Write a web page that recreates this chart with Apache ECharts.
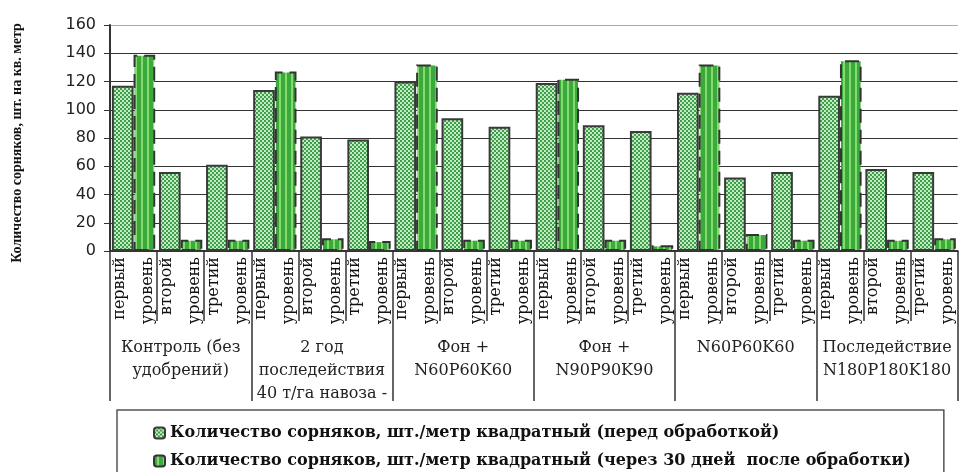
<!DOCTYPE html>
<html>
<head>
<meta charset="utf-8">
<script src="https://cdn.jsdelivr.net/npm/echarts@6/dist/echarts.min.js"></script>
<style>
  html, body { margin: 0; padding: 0; background: #fff; }
  #chart { width: 962px; height: 472px; }
</style>
</head>
<body>
<div id="chart"></div>
<script>
// данные
const groups = [
  'Контроль (без\nудобрений)',
  '2 год\nпоследействия\n40 т/га навоза -',
  'Фон +\nN60P60K60',
  'Фон +\nN90P90K90',
  'N60P60K60',
  'Последействие\nN180P180K180'
];
const levels = ['первый\nуровень', 'второй\nуровень', 'третий\nуровень'];
const categories = [];
groups.forEach(() => levels.forEach(l => categories.push(l)));

const beforeValues = [117, 56, 61, 114, 81, 79, 120, 94, 88, 119, 89, 85, 112, 52, 56, 110, 58, 56];
const afterValues  = [139, 8, 8, 127, 9, 7, 132, 8, 8, 122, 8, 4, 132, 12, 8, 135, 8, 9];

const seriesNames = [
  'Количество сорняков, шт./метр квадратный (перед обработкой)',
  'Количество сорняков, шт./метр квадратный (через 30 дней  после обработки)'
];
const yTicks = { min: 0, max: 160, interval: 20 };

// заливки (шахматка и полоски)
function checkerPattern() {
  const c = document.createElement('canvas');
  c.width = 4; c.height = 4;
  const ctx = c.getContext('2d');
  ctx.fillStyle = '#c4ecc2';
  ctx.fillRect(0, 0, 4, 4);
  ctx.fillStyle = '#3f9e4c';
  ctx.fillRect(0, 0, 2, 2);
  ctx.fillRect(2, 2, 2, 2);
  return c;
}
function stripePattern() {
  const c = document.createElement('canvas');
  c.width = 6; c.height = 4;
  const ctx = c.getContext('2d');
  ctx.fillStyle = '#3aaa3c';
  ctx.fillRect(0, 0, 6, 4);
  ctx.fillStyle = '#86da6e';
  ctx.fillRect(3, 0, 2, 4);
  return c;
}

const serif = 'DejaVu Serif';
const chart = echarts.init(document.getElementById('chart'));

const option = {
  backgroundColor: '#fff',
  animation: false,
  grid: {
    left: 110,
    right: -1,
    top: 25,
    bottom: 221
  },
  legend: {
    orient: 'vertical',
    left: 117,
    top: 410,
    height: 100,
    padding: [15, 33, 40, 36],
    itemGap: 12,
    itemWidth: 11,
    itemHeight: 11,
    borderColor: '#555',
    borderWidth: 1.5,
    textStyle: {
      fontFamily: serif,
      fontWeight: 'bold',
      fontSize: 16,
      color: '#111'
    },
    data: seriesNames
  },
  xAxis: [
    {
      type: 'category',
      data: categories,
      position: 'bottom',
      axisLine: { lineStyle: { color: '#333', width: 2 } },
      axisTick: {
        show: true,
        interval: 0,
        length: 70,
        lineStyle: { color: '#333', width: 1.5 }
      },
      axisLabel: {
        interval: 0,
        rotate: 90,
        margin: 6,
        fontFamily: serif,
        fontSize: 16,
        lineHeight: 28,
        color: '#111'
      }
    },
    {
      type: 'category',
      data: groups,
      position: 'bottom',
      axisLine: { show: false },
      axisTick: {
        show: true,
        interval: 0,
        length: 150,
        lineStyle: { color: '#333', width: 1.5 }
      },
      axisLabel: {
        interval: 0,
        margin: 85,
        fontFamily: serif,
        fontSize: 16,
        lineHeight: 23,
        color: '#222'
      }
    }
  ],
  yAxis: {
    type: 'value',
    min: yTicks.min,
    max: yTicks.max,
    interval: yTicks.interval,
    name: 'Количество сорняков, шт. на кв. метр',
    nameLocation: 'middle',
    nameGap: 86,
    nameTextStyle: {
      fontFamily: 'Liberation Serif',
      fontWeight: 'bold',
      fontSize: 14,
      color: '#111',
      padding: [0, 10, 0, 0]
    },
    axisLine: { show: true, lineStyle: { color: '#333', width: 2 } },
    axisTick: { show: true, length: 6, lineStyle: { color: '#333' } },
    axisLabel: {
      margin: 14,
      fontFamily: 'DejaVu Sans',
      fontSize: 16,
      color: '#222'
    },
    splitLine: {
      lineStyle: {
        color: ['#333', '#333', '#333', '#333', '#333', '#333', '#333', '#333', '#aaa'],
        width: 1.2
      }
    }
  },
  series: [
    {
      name: seriesNames[0],
      type: 'bar',
      xAxisIndex: 0,
      data: beforeValues,
      barGap: '0%',
      barCategoryGap: '8%',
      itemStyle: {
        color: { image: checkerPattern(), repeat: 'repeat' },
        borderColor: '#3a3a3a',
        borderWidth: 2
      }
    },
    {
      name: seriesNames[1],
      type: 'bar',
      xAxisIndex: 0,
      data: afterValues,
      barGap: '0%',
      barCategoryGap: '8%',
      itemStyle: {
        color: { image: stripePattern(), repeat: 'repeat' },
        borderColor: '#333',
        borderWidth: 2,
        borderType: [14, 7]
      }
    }
  ]
};

chart.setOption(option);
</script>
</body>
</html>
